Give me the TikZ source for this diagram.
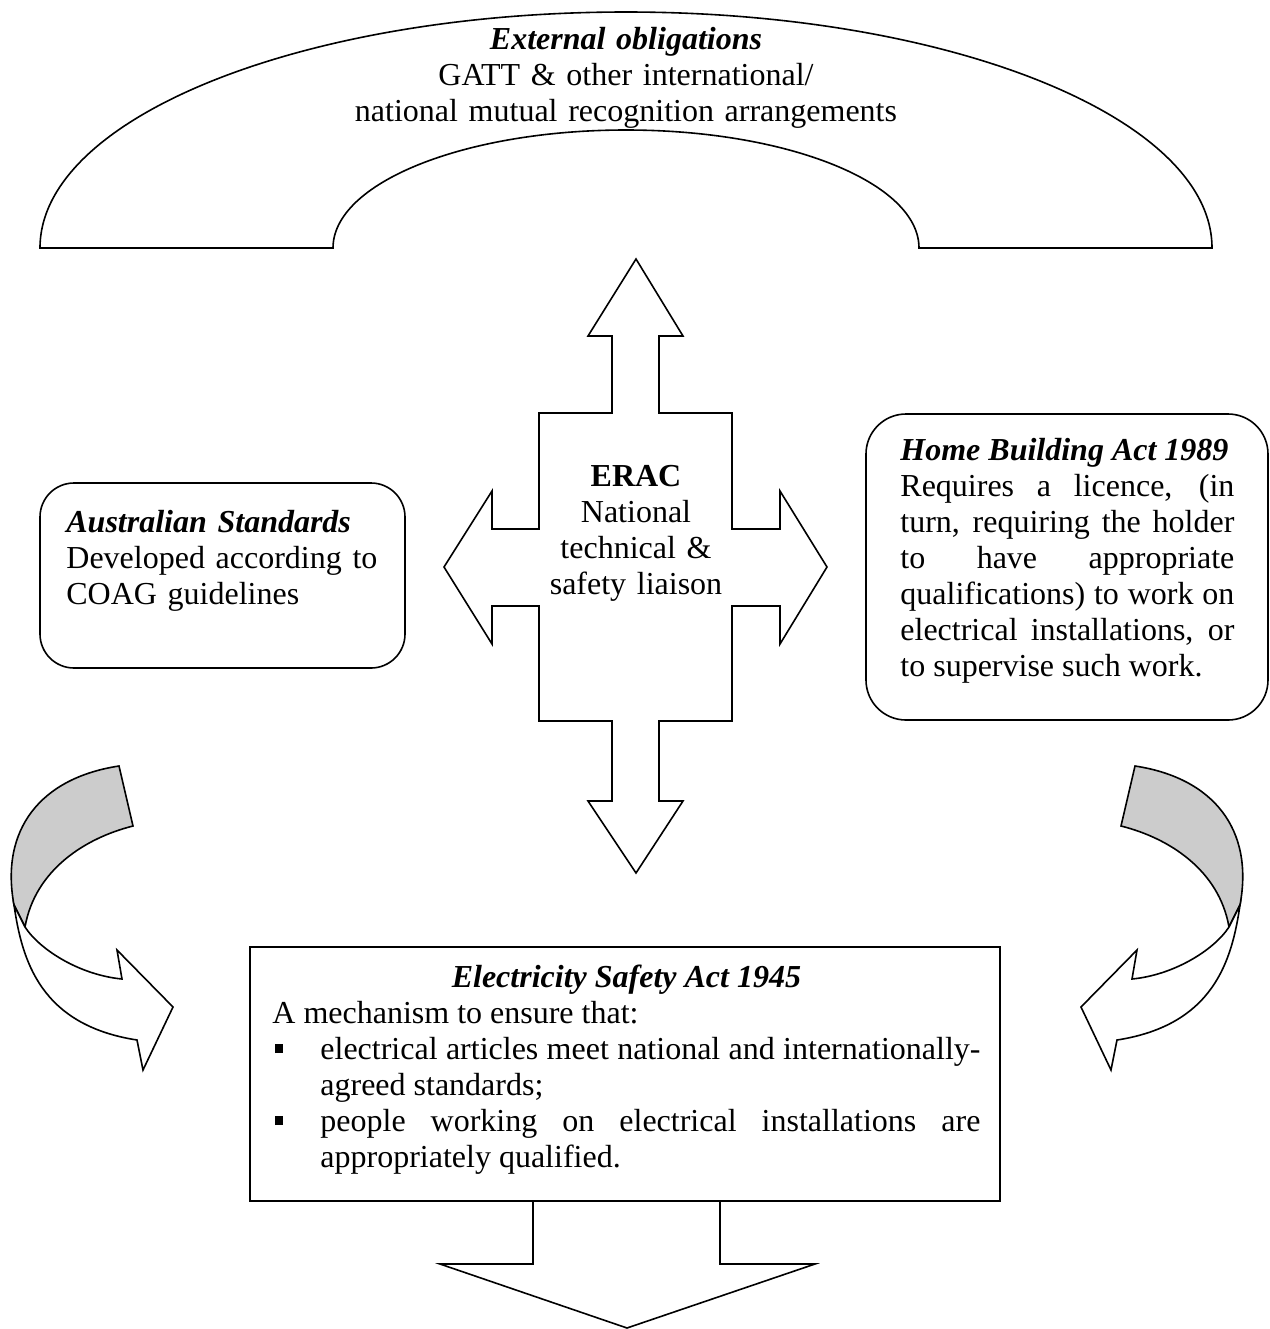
\documentclass[tikz,border=0pt]{standalone}
\usepackage{fontspec}
\setmainfont{Liberation Serif}
\usetikzlibrary{positioning}

\definecolor{backgray}{RGB}{204,204,204}
\newcommand{\bititle}[1]{\textbf{\textit{#1}}}
\newcommand{\sqbullet}{\makebox[24pt][l]{\hspace{1.5pt}\rule[3pt]{4pt}{4.5pt}}}
\newcommand{\sqitem}{\par\hangindent=24pt\hangafter=1\sqbullet}

\begin{document}
\begin{tikzpicture}[x=0.5pt,y=-0.5pt,
    outline/.style={draw=black,line width=0.8pt,line join=miter},
    blocktext/.style={inner sep=0pt,font=\fontsize{16pt}{18pt}\selectfont,
        execute at begin node={\tolerance=10000\hyphenpenalty=10000}},
    ]
    \useasboundingbox (0,0) rectangle (1270,1329);

    % arch of external obligations
    \draw[outline] (40,248) arc[start angle=180,end angle=360,x radius=586,y radius=236]
        -- (919,248) arc[start angle=360,end angle=180,x radius=293,y radius=118] -- cycle;
    \node[blocktext,text width=300pt,align=center,anchor=base] (oblig) at (626,49)
        {\bititle{External obligations}\\GATT \& other international/\\national mutual recognition arrangements};

    % ERAC cross arrow
    \draw[outline] (636,259) -- (683,336) -- (659,336) -- (659,413) -- (732,413) -- (732,529)
        -- (780,529) -- (780,491) -- (827,567) -- (780,644) -- (780,606) -- (732,606)
        -- (732,721) -- (659,721) -- (659,801) -- (683,801) -- (636,873) -- (588,801)
        -- (612,801) -- (612,721) -- (539,721) -- (539,606) -- (492,606) -- (492,644)
        -- (444,567) -- (492,491) -- (492,529) -- (539,529) -- (539,413) -- (612,413)
        -- (612,336) -- (588,336) -- cycle;
    \node[blocktext,text width=110pt,align=center,anchor=base] (erac) at (636,486)
        {\textbf{ERAC}\\National\\technical \&\\safety liaison};

    % side boxes
    \node[outline,rounded corners=17pt,minimum width=182.5pt,minimum height=92.5pt] (austd) at (222.5,575.5) {};
    \node[blocktext,text width=165pt,align=left,anchor=base west] (austdtext) at (66,532)
        {\bititle{Australian Standards}\\Developed according to\\COAG guidelines};

    \node[outline,rounded corners=20pt,minimum width=201pt,minimum height=153pt] (homeb) at (1067,567) {};
    \node[blocktext,text width=167pt,align=justify,anchor=base west] (homebtext) at (900,460)
        {\bititle{Home Building Act 1989}\par
        Requires a licence, (in\linebreak turn, requiring the holder\linebreak to have appropriate\linebreak
        qualifications) to work on\linebreak electrical installations, or\linebreak to supervise such work.\par};

    % curved arrows
    \filldraw[outline,fill=backgray] (119,766) .. controls (40,778) and (0,830) .. (14,905) -- (25,927)
        .. controls (35,870) and (85,838) .. (133,826) -- cycle;
    \filldraw[outline,fill=white] (14,905) .. controls (22,960) and (40,1025) .. (137,1040) -- (143,1070)
        -- (173,1007) -- (117,950) -- (122,979) .. controls (80,975) and (40,950) .. (25,927) -- cycle;
    \begin{scope}[xshift=627pt,xscale=-1]
    \filldraw[outline,fill=backgray] (119,766) .. controls (40,778) and (0,830) .. (14,905) -- (25,927)
        .. controls (35,870) and (85,838) .. (133,826) -- cycle;
    \filldraw[outline,fill=white] (14,905) .. controls (22,960) and (40,1025) .. (137,1040) -- (143,1070)
        -- (173,1007) -- (117,950) -- (122,979) .. controls (80,975) and (40,950) .. (25,927) -- cycle;
    \end{scope}

    % electricity safety act box
    \node[outline,minimum width=375pt,minimum height=127pt] (esa) at (625,1074) {};
    \node[blocktext,text width=354pt,align=justify,anchor=base west] (esatext) at (272,987)
        {{\centering\bititle{Electricity Safety Act 1945}\par}
        A mechanism to ensure that:
        \sqitem electrical articles meet national and internationally-\linebreak agreed standards;
        \sqitem people working on electrical installations are\linebreak appropriately qualified.\par};
    \draw[outline] (533,1201) -- (533,1264) -- (440,1264) -- (627,1328) -- (815,1264) -- (720,1264) -- (720,1201);
\end{tikzpicture}
\end{document}
